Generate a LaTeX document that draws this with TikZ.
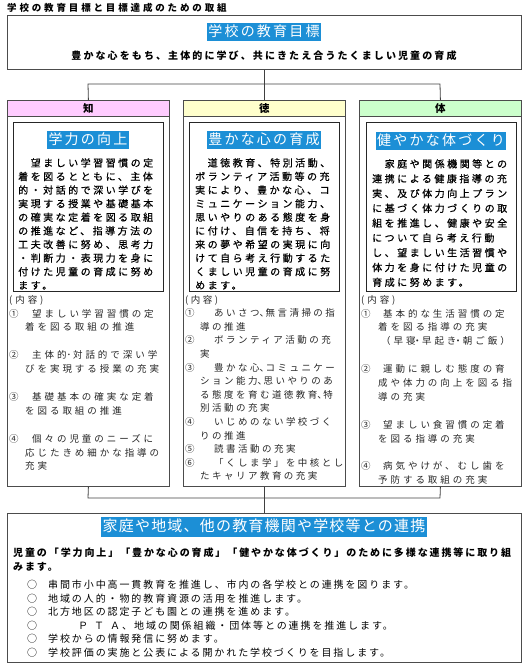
\documentclass[tikz,border=0pt]{standalone}
\usepackage{fontspec}
\setmainfont{Noto Sans CJK JP}
\newfontfamily\jpTitle[LetterSpace=30]{Noto Sans CJK JP}
\newfontfamily\jpSub[LetterSpace=21]{Noto Sans CJK JP}
\newfontfamily\jpHl[LetterSpace=16]{Noto Sans CJK JP}
\newfontfamily\jpHlB[LetterSpace=8]{Noto Sans CJK JP}
\newfontfamily\jpBody[LetterSpace=25,FakeBold=0.6]{Noto Sans CJK JP}
\newfontfamily\jpList[LetterSpace=31]{Noto Sans CJK JP}
\newfontfamily\jpListT[LetterSpace=26]{Noto Sans CJK JP}
\newfontfamily\jpPara[LetterSpace=19]{Noto Sans CJK JP}
\newcommand{\nc}{\makebox[6pt][l]{、}}
\newcommand{\nd}{\makebox[6.5pt][l]{･}}
\newcommand{\ndf}{\makebox[6.5pt][l]{\hspace*{-3pt}・}}
\definecolor{hlblue}{HTML}{1C8FD6}
\definecolor{headpink}{HTML}{FFCCFF}
\definecolor{headyellow}{HTML}{FFFFCC}
\definecolor{headgreen}{HTML}{CCFFCC}
\tikzset{
  frame/.style={draw=black!70, line width=0.8pt, inner sep=0pt, anchor=north west},
  headbar/.style={frame, minimum width=162pt, minimum height=16pt,
    font=\jpSub\bfseries\fontsize{10.5}{12}\selectfont},
  innerbox/.style={draw=black!85, line width=0.8pt, inner sep=0pt, anchor=north west,
    minimum width=150pt, minimum height=169pt},
  hl/.style={fill=hlblue, text=white, inner xsep=1.5pt, inner ysep=2pt,
    text height=11.5pt, text depth=2.5pt, font=\jpHl\fontsize{14}{16}\selectfont},
  body/.style={anchor=north west, inner sep=0pt, text width=150pt, align=left},
  listtext/.style={anchor=north west, inner sep=0pt, text width=165pt, align=left, text=black!85},
  link/.style={draw=black!75, line width=0.8pt},
}
\begin{document}
\begin{tikzpicture}[x=1pt,y=-1pt]
\useasboundingbox (0,0) rectangle (526,668);
% title
\node[anchor=west, inner sep=0pt, font=\jpTitle\bfseries\fontsize{9.5}{11}\selectfont] (ttl) at (7,8) {学校の教育目標と目標達成のための取組};
% top goal box
\node[frame, minimum width=514pt, minimum height=54pt] (goal) at (7,15) {};
\node[hl] (goalT) at (264,32) {学校の教育目標};
\node[inner sep=0pt, font=\jpSub\bfseries\fontsize{10}{12}\selectfont] (goalS) at (264,56) {豊かな心をもち、主体的に学び、共にきたえ合うたくましい児童の育成};
% columns
\node[frame, minimum width=162pt, minimum height=386pt] (chiBox) at (7,100) {};
\node[frame, minimum width=162pt, minimum height=386pt] (tokuBox) at (183,100) {};
\node[frame, minimum width=162pt, minimum height=386pt] (taiBox) at (359,100) {};
\node[headbar, fill=headpink] (chiHead) at (7,100) {知};
\node[headbar, fill=headyellow] (tokuHead) at (183,100) {徳};
\node[headbar, fill=headgreen] (taiHead) at (359,100) {体};
\node[innerbox] (chiIn) at (13,122) {};
\node[innerbox] (tokuIn) at (189,122) {};
\node[innerbox] (taiIn) at (366,122) {};
\node[hl] (chiT) at (88,140) {学力の向上};
\node[hl] (tokuT) at (264,140) {豊かな心の育成};
\node[hl] (taiT) at (441,141) {健やかな体づくり};
% body texts
\node[body, font=\jpBody\fontsize{10}{13.6}\selectfont] (chiBody) at (18,158) {%
　望ましい学習習慣の定\\
着を図るとともに、主体\\
的・対話的で深い学びを\\
実現する授業や基礎基本\\
の確実な定着を図る取組\\
の推進など、指導方法の\\
工夫改善に努め、思考力\\
・判断力・表現力を身に\\
付けた児童の育成に努め\\
ます。};
\node[body, font=\jpBody\fontsize{10}{13.6}\selectfont] (tokuBody) at (195,158) {%
　道徳教育、特別活動、\\
ボランティア活動等の充\\
実により、豊かな心、コ\\
ミュニケーション能力、\\
思いやりのある態度を身\\
に付け、自信を持ち、将\\
来の夢や希望の実現に向\\
けて自ら考え行動するた\\
くましい児童の育成に努\\
めます。};
\node[body, font=\jpBody\fontsize{10}{14.8}\selectfont] (taiBody) at (372,159) {%
　家庭や関係機関等との\\
連携による健康指導の充\\
実、及び体力向上プラン\\
に基づく体力づくりの取\\
組を推進し、健康や安全\\
について自ら考え行動\\
し、望ましい生活習慣や\\
体力を身に付けた児童の\\
育成に努めます。};
% lists
\node[listtext, font=\jpList\fontsize{9.5}{13.9}\selectfont] (chiList) at (9,295) {%
(内容)\\
\makebox[23pt][l]{①}望ましい学習習慣の定\\
\hspace*{16pt}着を図る取組の推進\\[13.9pt]
\makebox[23pt][l]{②}主体的\nd 対話的で深い学\\
\hspace*{16pt}びを実現する授業の充実\\[13.9pt]
\makebox[23pt][l]{③}基礎基本の確実な定着\\
\hspace*{16pt}を図る取組の推進\\[13.9pt]
\makebox[23pt][l]{④}個々の児童のニーズに\\
\hspace*{16pt}応じたきめ細かな指導の\\
\hspace*{16pt}充実};
\node[listtext, font=\jpListT\fontsize{9.5}{13.6}\selectfont] (tokuList) at (185,295) {%
(内容)\\
\makebox[29pt][l]{①}あいさつ\nc 無言清掃の指\\
\hspace*{15pt}導の推進\\
\makebox[29pt][l]{②}ボランティア活動の充\\
\hspace*{15pt}実\\
\makebox[29pt][l]{③}豊かな心\nc コミュニケー\\
\hspace*{15pt}ション能力\nc 思いやりのあ\\
\hspace*{15pt}る態度を育む道徳教育\nc 特\\
\hspace*{15pt}別活動の充実\\
\makebox[29pt][l]{④}いじめのない学校づく\\
\hspace*{15pt}りの推進\\
\makebox[29pt][l]{⑤}読書活動の充実\\
\makebox[29pt][l]{⑥}「くしま学」を中核とし\\
\hspace*{15pt}たキャリア教育の充実};
\node[listtext, font=\jpList\fontsize{9.5}{13.9}\selectfont] (taiList) at (361,295) {%
(内容)\\
\makebox[22pt][l]{①}基本的な生活習慣の定\\
\hspace*{17pt}着を図る指導の充実\\
\hspace*{20pt}（早寝\ndf 早起き\ndf 朝ご飯）\\[13.9pt]
\makebox[22pt][l]{②}運動に親しむ態度の育\\
\hspace*{17pt}成や体力の向上を図る指\\
\hspace*{17pt}導の充実\\[13.9pt]
\makebox[22pt][l]{③}望ましい食習慣の定着\\
\hspace*{17pt}を図る指導の充実\\[13.9pt]
\makebox[22pt][l]{④}病気やけが、むし歯を\\
\hspace*{17pt}予防する取組の充実};
% bottom box
\node[frame, minimum width=514pt, minimum height=149pt] (renkei) at (7,513) {};
\node[hl, font=\jpHlB\fontsize{15}{17}\selectfont, text height=12.5pt, text depth=3pt] (renkeiT) at (264,527) {家庭や地域、他の教育機関や学校等との連携};
\node[anchor=north west, inner sep=0pt, align=left, font=\jpPara\bfseries\fontsize{10}{14}\selectfont] (renkeiP) at (13,548) {%
児童の「学力向上」「豊かな心の育成」「健やかな体づくり」のために多様な連携等に取り組\\
みます。};
\node[anchor=north west, inner sep=0pt, align=left, font=\jpPara\fontsize{10}{13.5}\selectfont] (renkeiL) at (27,580) {%
\makebox[21pt][l]{○}串間市小中高一貫教育を推進し、市内の各学校との連携を図ります。\\
\makebox[21pt][l]{○}地域の人的・物的教育資源の活用を推進します。\\
\makebox[21pt][l]{○}北方地区の認定子ども園との連携を進めます。\\
\makebox[21pt][l]{○}\hspace*{30pt}Ｐ\hspace{6pt}Ｔ\hspace{6pt}Ａ\hspace{2pt}、地域の関係組織・団体等との連携を推進します。\\
\makebox[21pt][l]{○}学校からの情報発信に努めます。\\
\makebox[21pt][l]{○}学校評価の実施と公表による開かれた学校づくりを目指します。};
% connectors
\coordinate (topL) at (88,84);
\coordinate (topR) at (440,84);
\coordinate (botL) at (88,498);
\coordinate (botR) at (440,498);
\draw[link] (goal.south) -- (tokuHead.north);
\draw[link] (chiHead.north) -- (topL) -- (topR) -- (taiHead.north);
\draw[link] (chiBox.south) -- (botL) -- (botR) -- (taiBox.south);
\draw[link] (tokuBox.south) -- (renkei.north);
\end{tikzpicture}
\end{document}
